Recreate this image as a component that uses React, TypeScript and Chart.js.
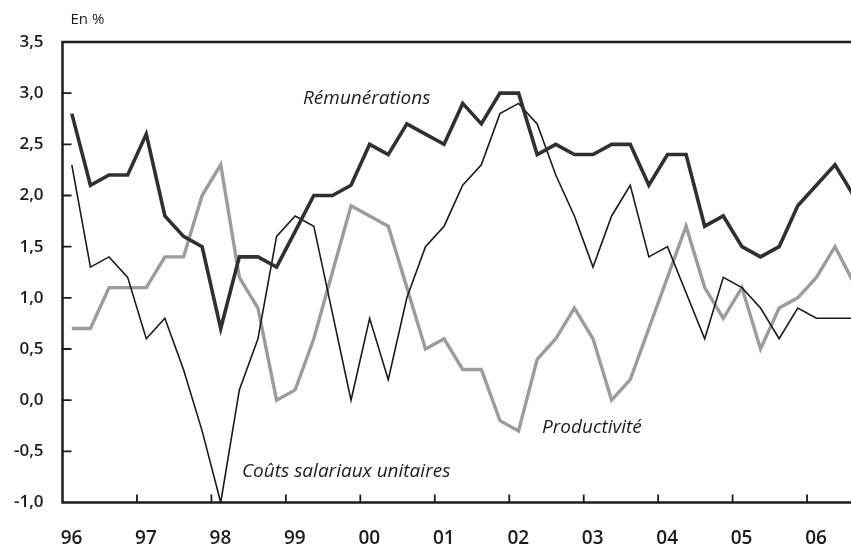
import React, { useEffect, useRef } from "react";
import { Chart, registerables } from "chart.js";

Chart.register(...registerables);

// Quarters (T = trimestre)
const periods = [
  "1996T1", "1996T2", "1996T3", "1996T4",
  "1997T1", "1997T2", "1997T3", "1997T4",
  "1998T1", "1998T2", "1998T3", "1998T4",
  "1999T1", "1999T2", "1999T3", "1999T4",
  "2000T1", "2000T2", "2000T3", "2000T4",
  "2001T1", "2001T2", "2001T3", "2001T4",
  "2002T1", "2002T2", "2002T3", "2002T4",
  "2003T1", "2003T2", "2003T3", "2003T4",
  "2004T1", "2004T2", "2004T3", "2004T4",
  "2005T1", "2005T2", "2005T3", "2005T4",
  "2006T1", "2006T2", "2006T3",
];

const remunerations = [
  2.8, 2.1, 2.2, 2.2, 2.6, 1.8, 1.6, 1.5, 0.7, 1.4, 1.4, 1.3,
  1.65, 2.0, 2.0, 2.1, 2.5, 2.4, 2.7, 2.6, 2.5, 2.9, 2.7, 3.0,
  3.0, 2.4, 2.5, 2.4, 2.4, 2.5, 2.5, 2.1, 2.4, 2.4, 1.7, 1.8,
  1.5, 1.4, 1.5, 1.9, 2.1, 2.3, 2.0,
];

const coutsSalariaux = [
  2.3, 1.3, 1.4, 1.2, 0.6, 0.8, 0.3, -0.3, -1.0, 0.1, 0.6, 1.6,
  1.8, 1.7, 0.85, 0.0, 0.8, 0.2, 1.0, 1.5, 1.7, 2.1, 2.3, 2.8,
  2.9, 2.7, 2.2, 1.8, 1.3, 1.8, 2.1, 1.4, 1.5, 1.05, 0.6, 1.2,
  1.1, 0.9, 0.6, 0.9, 0.8, 0.8, 0.8,
];

const productivite = [
  0.7, 0.7, 1.1, 1.1, 1.1, 1.4, 1.4, 2.0, 2.3, 1.2, 0.9, 0.0,
  0.1, 0.6, 1.25, 1.9, 1.8, 1.7, 1.1, 0.5, 0.6, 0.3, 0.3, -0.2,
  -0.3, 0.4, 0.6, 0.9, 0.6, 0.0, 0.2, 0.7, 1.2, 1.7, 1.1, 0.8,
  1.1, 0.5, 0.9, 1.0, 1.2, 1.5, 1.15,
];

const seriesNames = ["Rémunérations", "Coûts salariaux unitaires", "Productivité"];

const yearTicks = [1996, 1997, 1998, 1999, 2000, 2001, 2002, 2003, 2004, 2005, 2006];
const yearLabels = ["96", "97", "98", "99", "00", "01", "02", "03", "04", "05", "06"];

const yTicks = [-1, -0.5, 0, 0.5, 1, 1.5, 2, 2.5, 3, 3.5];
const yTickLabels = ["-1,0", "-0,5", "0,0", "0,5", "1,0", "1,5", "2,0", "2,5", "3,0", "3,5"];

const unitLabel = "En %";

// label placement in data coordinates (x = year, y = %)
const labelPlacement = [
  { series: 0, x: 1999.23, y: 2.95 },
  { series: 1, x: 1998.41, y: -0.7 },
  { series: 2, x: 2002.44, y: -0.27 },
];

const FONT = "'Open Sans', 'DejaVu Sans', sans-serif";
const INK = "#1c1c1c";

const periodToX = (p: string) => {
  const [y, q] = p.split("T");
  return Number(y) + (Number(q) - 0.5) / 4;
};

const toPoints = (vals: number[]) => vals.map((v, i) => ({ x: periodToX(periods[i]), y: v }));

const framePlugin = {
  id: "frame",
  afterDatasetsDraw(chart: any) {
    const { ctx, chartArea: a, scales } = chart;
    const xs = scales.x;
    const ys = scales.y;
    ctx.save();
    ctx.strokeStyle = INK;
    ctx.lineWidth = 2.5;
    ctx.lineCap = "butt";
    ctx.lineJoin = "miter";
    ctx.beginPath();
    ctx.moveTo(a.right + 10, a.top);
    ctx.lineTo(a.left, a.top);
    ctx.lineTo(a.left, a.bottom);
    ctx.lineTo(a.right + 10, a.bottom);
    ctx.stroke();

    ctx.lineWidth = 1.8;
    ctx.beginPath();
    yTicks.forEach((v) => {
      if (v === yTicks[0] || v === yTicks[yTicks.length - 1]) return;
      const py = ys.getPixelForValue(v);
      ctx.moveTo(a.left, py);
      ctx.lineTo(a.left + 9, py);
    });
    yearTicks.forEach((v, i) => {
      if (i === 0) return;
      const px = xs.getPixelForValue(v);
      ctx.moveTo(px, a.bottom);
      ctx.lineTo(px, a.bottom - 8);
    });
    ctx.stroke();

    ctx.fillStyle = INK;
    ctx.textAlign = "left";
    ctx.textBaseline = "middle";
    ctx.font = `15px ${FONT}`;
    ctx.fillText(unitLabel, a.left + 8, 20);

    ctx.font = `italic 19px ${FONT}`;
    labelPlacement.forEach((l) => {
      ctx.fillText(seriesNames[l.series], xs.getPixelForValue(l.x), ys.getPixelForValue(l.y));
    });
    ctx.restore();
  },
};

export default function App() {
  const ref = useRef<HTMLCanvasElement | null>(null);

  useEffect(() => {
    if (!ref.current) return;
    const chart = new Chart(ref.current, {
      type: "line",
      data: {
        datasets: [
          {
            label: seriesNames[0],
            data: toPoints(remunerations),
            borderColor: "#303030",
            borderWidth: 3.6,
            pointRadius: 0,
            tension: 0,
            borderJoinStyle: "miter",
          },
          {
            label: seriesNames[1],
            data: toPoints(coutsSalariaux),
            borderColor: "#1a1a1a",
            borderWidth: 1.6,
            pointRadius: 0,
            tension: 0,
            borderJoinStyle: "miter",
          },
          {
            label: seriesNames[2],
            data: toPoints(productivite),
            borderColor: "#9c9c9c",
            borderWidth: 3.4,
            pointRadius: 0,
            tension: 0,
            borderJoinStyle: "miter",
          },
        ],
      },
      options: {
        responsive: false,
        animation: false,
        devicePixelRatio: 1,
        layout: { padding: { top: 42, left: 0, right: 0, bottom: 0 } },
        plugins: {
          legend: { display: false },
          tooltip: { enabled: false },
          title: { display: false },
        },
        scales: {
          x: {
            type: "linear",
            min: 1996,
            max: 2006.59,
            grid: { display: false, drawTicks: false },
            border: { display: false },
            afterBuildTicks: (s: any) => {
              s.ticks = yearTicks.map((v) => ({ value: v }));
            },
            afterFit: (s: any) => {
              s.height = 45.5;
            },
            ticks: {
              autoSkip: false,
              maxRotation: 0,
              minRotation: 0,
              labelOffset: 9,
              padding: 25,
              color: INK,
              font: { family: FONT, size: 19, weight: "600" },
              callback: (v: any) => {
                const i = yearTicks.indexOf(Number(v));
                return i >= 0 ? yearLabels[i] : "";
              },
            },
          },
          y: {
            type: "linear",
            min: -1,
            max: 3.5,
            grid: { display: false, drawTicks: false },
            border: { display: false },
            afterBuildTicks: (s: any) => {
              s.ticks = yTicks.map((v) => ({ value: v }));
            },
            afterFit: (s: any) => {
              s.width = 62.5;
            },
            ticks: {
              autoSkip: false,
              padding: 19,
              color: INK,
              font: { family: FONT, size: 17, weight: "600" },
              callback: (v: any) => {
                const i = yTicks.indexOf(Number(v));
                return i >= 0 ? yTickLabels[i] : "";
              },
            },
          },
        },
      },
      plugins: [framePlugin],
    } as any);
    return () => chart.destroy();
  }, []);

  return (
    <div style={{ position: "absolute", left: 0, top: 0, width: 851, height: 548, background: "#fff" }}>
      <canvas ref={ref} width={851} height={548} style={{ display: "block", width: 851, height: 548 }} />
    </div>
  );
}
